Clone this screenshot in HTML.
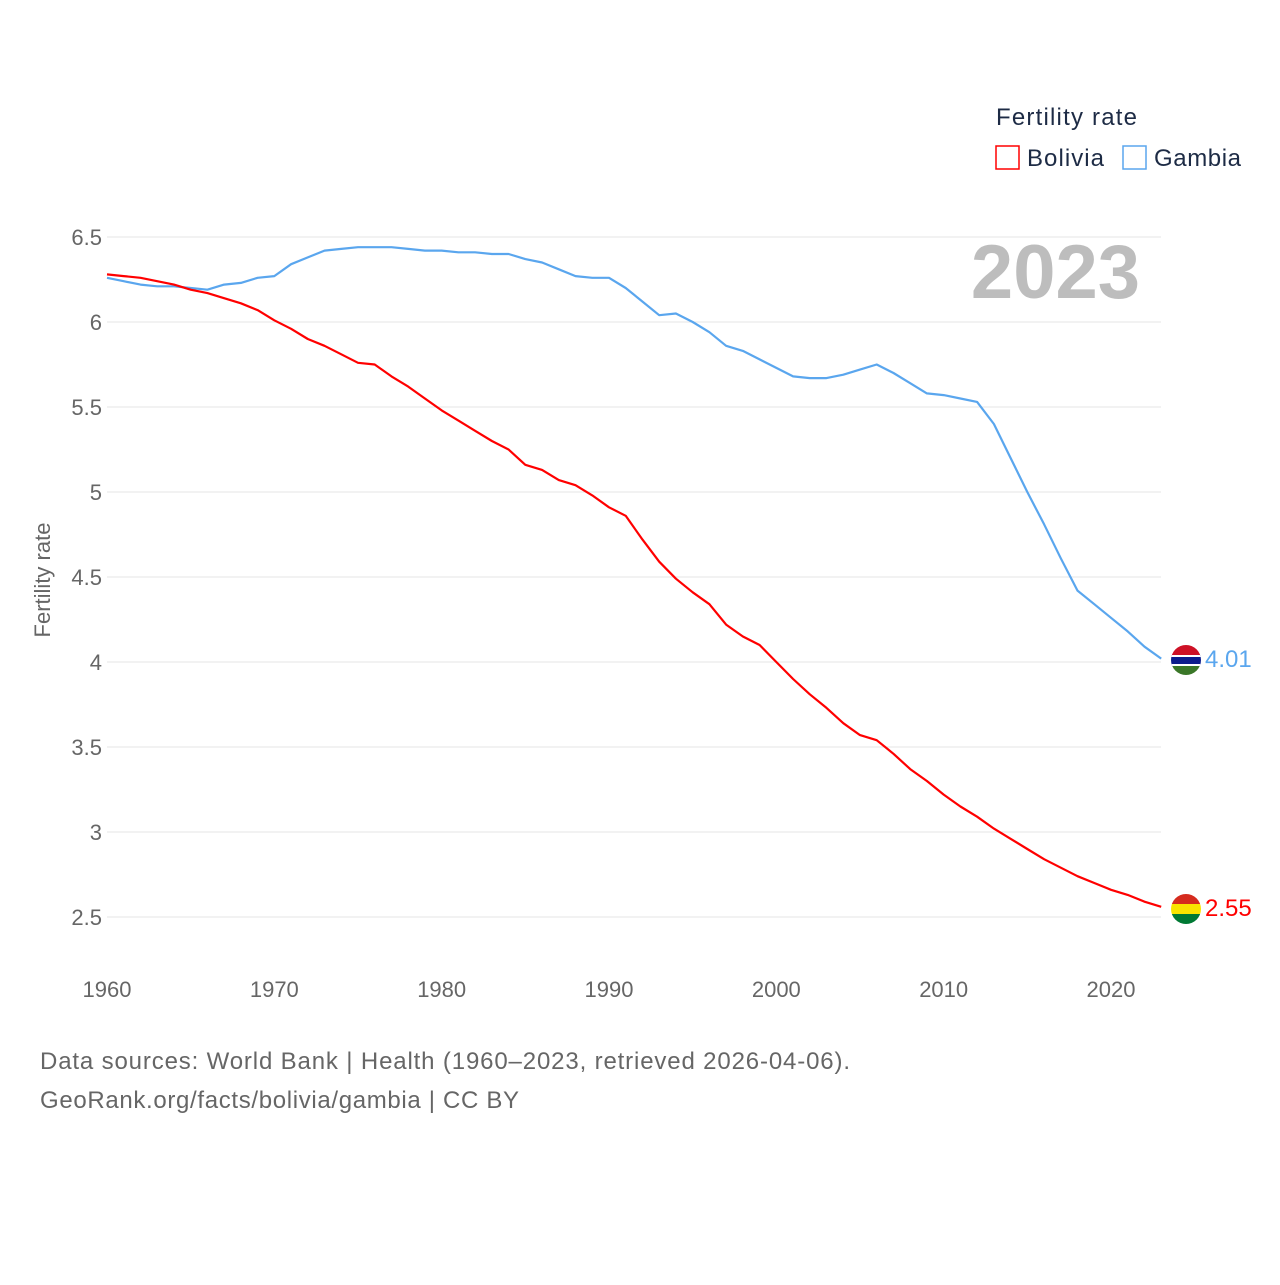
<!DOCTYPE html>
<html><head><meta charset="utf-8"><style>
body{margin:0;background:#fff;font-family:"Liberation Sans",sans-serif}
svg text{font-family:"Liberation Sans",sans-serif}
</style></head><body>
<svg id="chart" width="1280" height="1280" viewBox="0 0 1280 1280">
<defs>
<clipPath id="cg"><circle cx="1186" cy="660" r="15"/></clipPath>
<clipPath id="cb"><circle cx="1186" cy="909" r="15"/></clipPath>
</defs>
<g id="grid"></g>
<g id="yticks"></g>
<g id="xticks"></g>
<text x="50" y="580" transform="rotate(-90 50 580)" text-anchor="middle" font-size="22" fill="#666">Fertility rate</text>
<text x="1140" y="298" text-anchor="end" font-size="76" font-weight="bold" fill="#bdbdbd">2023</text>
<text x="996" y="125" font-size="24" fill="#1d2b45" textLength="141">Fertility rate</text>
<g><rect x="996" y="146" width="23" height="23" fill="none" stroke="#f00" stroke-width="1.5"/><text x="1027" y="166" font-size="24" fill="#1d2b45" textLength="77">Bolivia</text></g>
<g><rect x="1123" y="146" width="23" height="23" fill="none" stroke="#5aa6ee" stroke-width="1.5"/><text x="1154" y="166" font-size="24" fill="#1d2b45" textLength="87">Gambia</text></g>
<g id="series"></g>
<g clip-path="url(#cg)">
<rect x="1170" y="644" width="32" height="11" fill="#ce1126"/><rect x="1170" y="655" width="32" height="11" fill="#0c1c8c"/><rect x="1170" y="655" width="32" height="2" fill="#fff"/><rect x="1170" y="664" width="32" height="2" fill="#fff"/><rect x="1170" y="666" width="32" height="10" fill="#3a7728"/></g>
<g clip-path="url(#cb)">
<rect x="1170" y="893" width="32" height="11" fill="#d52b1e"/><rect x="1170" y="904" width="32" height="10" fill="#f9e300"/><rect x="1170" y="914" width="32" height="11" fill="#007934"/></g>
<text x="1205" y="667" font-size="24" fill="#5aa6ee">4.01</text>
<text x="1205" y="916" font-size="24" fill="#f00">2.55</text>
<text x="40" y="1069" font-size="24" fill="#666" textLength="810">Data sources: World Bank | Health (1960–2023, retrieved 2026-04-06).</text>
<text x="40" y="1108" font-size="24" fill="#666" textLength="479">GeoRank.org/facts/bolivia/gambia | CC BY</text>
</svg>
<script>
const years=[];for(let y=1960;y<=2023;y++)years.push(y);
const bolivia=[6.28,6.27,6.26,6.24,6.22,6.19,6.17,6.14,6.11,6.07,6.01,5.96,5.90,5.86,5.81,5.76,5.75,5.68,5.62,5.55,5.48,5.42,5.36,5.30,5.25,5.16,5.13,5.07,5.04,4.98,4.91,4.86,4.72,4.59,4.49,4.41,4.34,4.22,4.15,4.10,4.00,3.90,3.81,3.73,3.64,3.57,3.54,3.46,3.37,3.30,3.22,3.15,3.09,3.02,2.96,2.90,2.84,2.79,2.74,2.70,2.66,2.63,2.59,2.56];
const gambia=[6.26,6.24,6.22,6.21,6.21,6.20,6.19,6.22,6.23,6.26,6.27,6.34,6.38,6.42,6.43,6.44,6.44,6.44,6.43,6.42,6.42,6.41,6.41,6.40,6.40,6.37,6.35,6.31,6.27,6.26,6.26,6.20,6.12,6.04,6.05,6.00,5.94,5.86,5.83,5.78,5.73,5.68,5.67,5.67,5.69,5.72,5.75,5.70,5.64,5.58,5.57,5.55,5.53,5.40,5.20,5.00,4.81,4.61,4.42,4.34,4.26,4.18,4.09,4.02];
const yTicks=[2.5,3,3.5,4,4.5,5,5.5,6,6.5];
const xTicks=[1960,1970,1980,1990,2000,2010,2020];
const X=y=>107+(y-1960)*(1004/60);
const Y=v=>917-(v-2.5)*170;
const NS="http://www.w3.org/2000/svg";
const mk=(t,a,p)=>{const e=document.createElementNS(NS,t);for(const k in a)e.setAttribute(k,a[k]);p.appendChild(e);return e;};
const grid=document.getElementById('grid'),yt=document.getElementById('yticks'),xt=document.getElementById('xticks'),ser=document.getElementById('series');
yTicks.forEach(v=>{
 const l=mk('line',{x1:107,x2:1161,y1:Y(v),y2:Y(v),stroke:'#e6e6e6','stroke-width':1},grid);
 
 
 const t=mk('text',{x:102,y:Y(v)+8,'text-anchor':'end','font-size':22,fill:'#666'},yt);
 t.textContent=String(v);
 
 
});
xTicks.forEach(v=>{
 const t=mk('text',{x:X(v),y:997,'text-anchor':'middle','font-size':22,fill:'#666'},xt);
 t.textContent=String(v);
 
 
});
function line(vals,color,name){
 const d=vals.map((v,i)=>(i?'L':'M')+X(years[i]).toFixed(1)+','+Y(v).toFixed(1)).join(' ');
 const p=mk('path',{d:d,fill:'none',stroke:color,'stroke-width':2.2,'stroke-linejoin':'round'},ser);
 
 
}
line(gambia,'#5aa6ee','gambia-line');
line(bolivia,'#f00','bolivia-line');
</script>
</body></html>
